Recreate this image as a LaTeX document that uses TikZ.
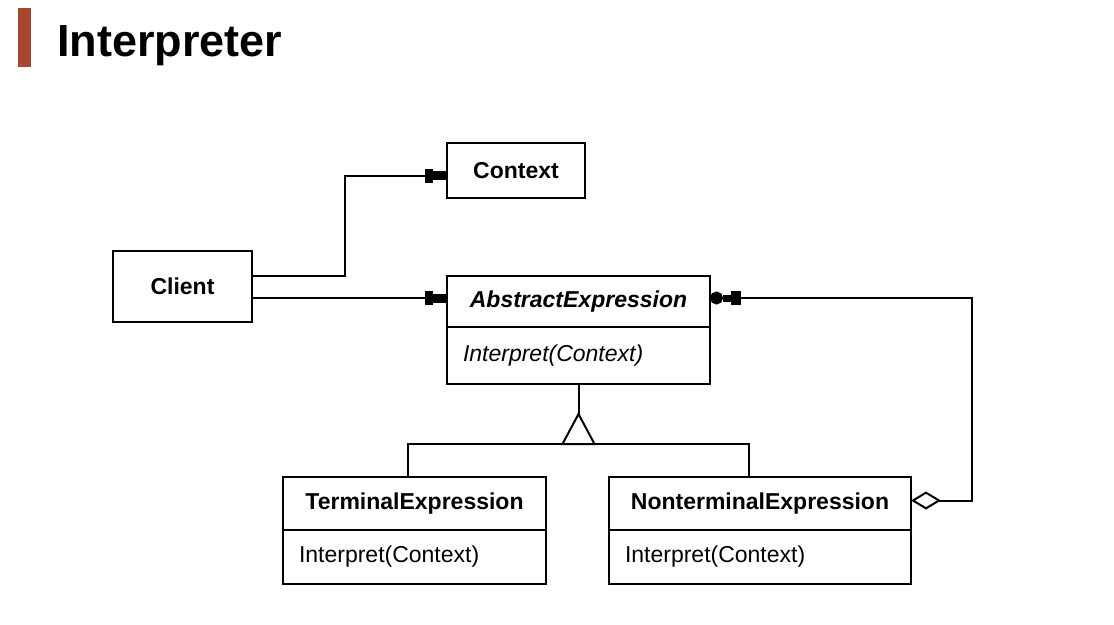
\documentclass[tikz,border=0pt]{standalone}
\usepackage{fontspec}
\setmainfont{Liberation Sans}
\usetikzlibrary{positioning,arrows.meta}
\definecolor{titlebar}{RGB}{166,72,48}
\tikzset{
  box/.style={draw,line width=2pt,inner sep=0pt,outer sep=0pt,font=\fontsize{23}{27}\selectfont\bfseries},
  opbox/.style={draw,line width=2pt,inner xsep=16pt,inner ysep=0pt,outer sep=0pt,align=left,font=\fontsize{23}{27}\selectfont},
  link/.style={line width=2pt},
  acq/.style={link,-{Rectangle[length=8pt,width=14pt]Rectangle[length=14pt,width=9pt]}},
  agg/.style={link,{Diamond[open,length=30pt,width=18pt,line width=2pt]}-{Rectangle[length=10pt,width=14pt]Rectangle[length=8pt,width=7pt]Circle[length=13pt]}}
}
\begin{document}
\begin{tikzpicture}[x=1pt,y=-1pt]
	\useasboundingbox[fill=white] (0,0) rectangle (1114,624);
	\fill[titlebar] (18,8) rectangle (31,67);
	\node[anchor=base west,inner sep=0pt,font=\fontsize{45}{54}\selectfont\bfseries] (title) at (57,56) {Interpreter};
	% classes
	\node[box,anchor=north west,minimum width=138pt,minimum height=55pt] (context) at (447,143) {Context};
	\node[box,anchor=north west,minimum width=139pt,minimum height=71pt] (client) at (113,251) {Client};
	\node[box,anchor=north west,minimum width=263pt,minimum height=51pt] (abstract) at (447,276) {\itshape AbstractExpression};
	\node[opbox,below=0pt of abstract,text width=231pt,minimum height=57pt] (abstractop) {\itshape Interpret(Context)};
	\node[box,anchor=north west,minimum width=263pt,minimum height=53pt] (terminal) at (283,477) {TerminalExpression};
	\node[opbox,below=0pt of terminal,text width=231pt,minimum height=54pt] (terminalop) {Interpret(Context)};
	\node[box,anchor=north west,minimum width=302pt,minimum height=53pt] (nonterminal) at (609,477) {NonterminalExpression};
	\node[opbox,below=0pt of nonterminal,text width=270pt,minimum height=54pt] (nonterminalop) {Interpret(Context)};
	% client links
	\coordinate (ae) at ([yshift=3.5pt]abstract.west);
	\draw[acq] ([yshift=10.5pt]client.east) -- ++(93,0) |- ([yshift=-5pt]context.west);
	\draw[acq] (ae -| client.east) -- (ae);
	% inheritance
	\draw[link] (abstractop.south) -- ++(0,30) coordinate (apex);
	\draw[link,fill=white] (apex) -- ++(-16,30) coordinate (base) -- ++(32,0) -- cycle;
	\draw[link] ([xshift=-6.5pt]terminal.north) |- (base -| apex) -| ([xshift=-11pt]nonterminal.north);
	% aggregation
	\draw[agg] ([yshift=3pt]nonterminal.east) -- ++(61,0) |- ([yshift=3.5pt]abstract.east);
\end{tikzpicture}
\end{document}
